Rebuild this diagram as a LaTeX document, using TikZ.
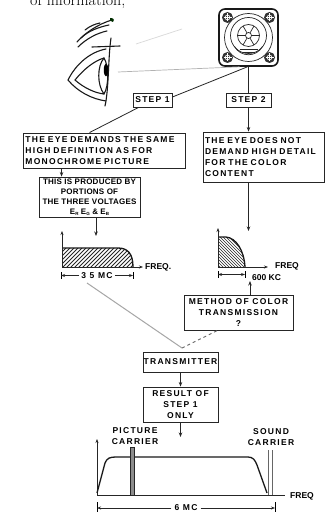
\documentclass[tikz,border=0pt]{standalone}
\usepackage{fontspec}
\newfontfamily\lblf{Liberation Sans}[LetterSpace=15]
\newfontfamily\lbln{Liberation Sans}[LetterSpace=3]
\newfontfamily\lblp{Liberation Sans}
\usetikzlibrary{arrows.meta,calc}
\newcommand{\sbx}[1]{\lower1.2bp\hbox{\fontsize{4.5bp}{5bp}\selectfont #1}}
\begin{document}
\begin{tikzpicture}[x=1bp,y=-1bp,
  bx/.style={draw=black!85, line width=0.9bp, rectangle, inner sep=0pt, align=center,
    font=\lblf\bfseries\fontsize{8.5bp}{11bp}\selectfont, text=black},
  ln/.style={line width=0.8bp, draw=black!85},
  arr/.style={ln, -{Stealth[length=4.5bp,width=3.5bp]}},
  dimarr/.style={line width=0.7bp, draw=black!85, -{Stealth[length=4bp,width=3bp]}},
  lbl/.style={inner sep=0pt, align=center, text=black,
    font=\lblf\bfseries\fontsize{8.5bp}{11bp}\selectfont},
  plbl/.style={inner sep=0pt, text=black, font=\lblp\bfseries\fontsize{8.5bp}{10bp}\selectfont},
  sight/.style={draw=black!30, line width=0.7bp},
  curve/.style={draw=black!90, line width=1.3bp}]
\useasboundingbox (0,0) rectangle (326,513);
\fill[white] (0,0) rectangle (326,513);

% cut-off text at the top
\node[anchor=base west, inner sep=0pt, font=\fontsize{16bp}{16bp}\selectfont] (toptext) at (30,6) {of information,};

% ---------- TV screen ----------
\node[draw=black!90, line width=1.6bp, rounded corners=6bp, minimum width=59bp, minimum height=57bp, inner sep=0pt] (tv) at (248.5,37.5) {};
\begin{scope}[shift={(tv.center)}, line width=0.7bp, draw=black!85]
  \draw (0,0) circle[radius=24bp];
  \draw (0,-2) circle[radius=18bp];
  \draw (0,-2) circle[radius=11bp];
  \draw (0,-2) circle[radius=3bp];
  \foreach \a in {0,60,...,300} \draw (0,-2) ++(\a:3bp) -- ++(\a:8bp);
  \draw (-9,12) -- (9,12);
  \draw (-6,14.5) -- (6,14.5);
  \draw (-14,9) .. controls (-8,20) and (8,20) .. (14,9);
  \foreach \cx/\cy in {-21/-20, 21/-20, -21/20, 21/20} {
    \fill[black!80] (\cx,\cy) circle[radius=5.5bp];
    \draw[white, line width=0.8bp] (\cx-4,\cy) -- (\cx+4,\cy) (\cx,\cy-4) -- (\cx,\cy+4);
    \draw[white, line width=0.6bp] (\cx,\cy) circle[radius=2.5bp];
  }
\end{scope}

% ---------- Eye ----------
\begin{scope}[line width=1.1bp, line cap=round, draw=black!90]
  \draw (77,42) .. controls (85,33) and (98,24) .. (112,20);
  \draw (81,38) .. controls (88,31) and (99,27) .. (109,25);
  \draw (78,47) .. controls (86,39) and (97,33) .. (107,31);
  \draw (85,30) .. controls (90,26) and (95,24) .. (100,23);
  \fill[black!70!green!60!black] (110,18) .. controls (113,18) and (115,19) .. (113,22) .. controls (111,22) and (109,20) .. cycle;
  \draw (68,80) .. controls (76,64) and (90,52) .. (106,49);
  \draw (92,47) -- (120,46);
  \draw (68,80) .. controls (78,92) and (92,99) .. (106,101);
  \draw (75,80) .. controls (84,69) and (94,61) .. (104,58);
  \draw (75,80) .. controls (84,88) and (95,93) .. (104,94);
  \draw (104,58) .. controls (97,66) and (97,85) .. (104,94);
  \draw (104,58) .. controls (109,66) and (109,86) .. (104,94);
  \fill[black] (106,70) ellipse[x radius=2.2bp, y radius=6.5bp];
  \draw (111,38) .. controls (108,58) and (109,88) .. (105,106);
\end{scope}
\coordinate (eye) at (118,72);
\coordinate (eyetop) at (136,44);
\draw[sight] (eye) -- ($(tv.south)+(-9,0)$);
\draw[draw=black!15, line width=0.7bp] (eyetop) -- (182,29);

% ---------- Boxes ----------
\node[bx, minimum width=39bp, minimum height=14bp] (step1) at (152.5,100) {STEP 1};
\node[bx, minimum width=45bp, minimum height=14bp] (step2) at (248.5,100) {STEP 2};
\node[bx, minimum width=162bp, minimum height=35bp, text width=157bp, align=left] (boxA) at (104,150.5)
  {THE EYE DEMANDS THE SAME\\HIGH DEFINITION AS FOR\\MONOCHROME PICTURE};
\node[bx, minimum width=101bp, minimum height=40bp, font=\lbln\bfseries\fontsize{8bp}{10bp}\selectfont] (boxB) at (89.5,197)
  {THIS IS PRODUCED BY\\PORTIONS OF\\THE THREE VOLTAGES\\E\sbx{R} E\sbx{G} \& E\sbx{B}};
\node[bx, minimum width=121bp, minimum height=50bp, text width=118bp, align=left] (boxC) at (264,157)
  {THE EYE DOES NOT\\DEMAND HIGH DETAIL\\FOR THE COLOR\\CONTENT};
\node[bx, minimum width=109bp, minimum height=35bp] (boxD) at (238.5,312.5)
  {METHOD OF COLOR\\TRANSMISSION\\?};
\node[bx, minimum width=75bp, minimum height=20bp] (tx) at (180.5,362) {TRANSMITTER};
\node[bx, minimum width=75bp, minimum height=35bp] (res) at (180.5,404.5) {RESULT OF\\STEP 1\\ONLY};

% ---------- Connectors ----------
\draw[ln] ($(tv.south)+(-1,0)$) -- ($(step1.east)+(0,-3)$);
\draw[ln] (tv.south) -- (step2.north);
\draw[ln] ($(step1.south west)+(6,0)$) -- ($(boxA.north west)+(67,0)$);
\draw[arr] (step2.south) -- (step2.south |- boxC.north);
\draw[arr] ($(boxA.south west)+(39,0)$) -- ($(boxB.north west)+(23,0)$);
\coordinate (g1in) at (96,236);
\draw[arr] (boxB.south -| g1in) -- (g1in);
\coordinate (g2in) at (248.5,231);
\draw[arr] (boxC.south -| g2in) -- (g2in);
\coordinate (g2dim) at (250,281);
\draw[arr] (boxD.north -| g2dim) -- (g2dim);
\coordinate (g1low) at (87,283);
\coordinate (join) at (182,348);
\draw[draw=black!35, line width=1bp] (g1low) -- (join);
\draw[draw=black!60, line width=0.9bp, dashed] (join) -- ($(boxD.south west)+(34,0)$);
\draw[arr] (tx.south) -- (res.north);
\coordinate (g3in) at (180.5,437);
\draw[arr] (res.south) -- (g3in);

% ---------- Graph 1 ----------
\coordinate (g1o) at (62,267);
\begin{scope}
  \clip (62,267) -- (62,248) -- (118,248) .. controls (128,248) and (133,254) .. (133,267) -- cycle;
  \foreach \i in {40,44,...,140} \draw[line width=0.8bp, black!85] (\i,270) -- ++(24,-24);
\end{scope}
\draw[curve] (62,248) -- (118,248) .. controls (128,248) and (133,254) .. (133,267);
\draw[dimarr, line width=1bp] (g1o) -- (62,231);
\draw[dimarr, line width=1bp] (g1o) -- (143,267);
\node[plbl, anchor=west] (freq1) at (145,267.5) {FREQ.};
\node[lbl, fill=white, inner xsep=2bp] (d1) at (97,275.5) {3 5  MC};
\draw[line width=0.7bp] (61,272) -- (61,279) (133,272) -- (133,279);
\draw[dimarr] (d1.west) -- (61,275.5);
\draw[dimarr] (d1.east) -- (133,275.5);

% ---------- Graph 2 ----------
\coordinate (g2o) at (218,267);
\begin{scope}
  \clip (218,267) -- (218,237) -- (226,237) .. controls (236,238) and (244,250) .. (245,267) -- cycle;
  \foreach \i in {170,173,...,250} \draw[line width=0.7bp, black!85] (\i,232) -- ++(40,40);
\end{scope}
\draw[curve] (218,237) -- (226,237) .. controls (236,238) and (244,250) .. (245,267);
\draw[dimarr, line width=1bp] (g2o) -- (218,228);
\draw[dimarr, line width=1bp] (g2o) -- (268,267);
\node[plbl, anchor=west] (freq2) at (275,266) {FREQ};
\draw[line width=0.7bp] (218,271) -- (218,278) (245,271) -- (245,278);
\draw[dimarr, {Stealth[length=4bp,width=3bp]}-{Stealth[length=4bp,width=3bp]}] (218,274.5) -- (245,274.5);
\node[plbl, anchor=west] (kc) at (252,277.5) {600  KC};

% ---------- Graph 3 ----------
\coordinate (g3o) at (97,495);
\draw[dimarr, line width=1bp] (g3o) -- (97,439);
\draw[line width=1bp, black!85] (g3o) -- (285,495);
\node[plbl, anchor=west] (freq3) at (290,496) {FREQ};
\draw[curve] (97,493) -- (105,463) .. controls (107,458) and (110,457) .. (116,457) -- (248,457) .. controls (253,457) and (255,460) .. (257,465) -- (267,493);
\draw[fill=black!45, draw=black!85, line width=0.6bp] (130.5,447) rectangle (134.5,495);
\draw[draw=black!60, line width=0.6bp] (268,450) -- (268,495) (272,450) -- (272,495);
\node[lbl] (pc) at (135,436) {PICTURE\\CARRIER};
\node[lbl] (sc) at (271,437) {SOUND\\CARRIER};
\node[lbl, fill=white, inner xsep=3bp] (d3) at (186,508) {6  MC};
\draw[line width=0.7bp] (97,502) -- (97,512) (275,502) -- (275,512);
\draw[dimarr] (d3.west) -- (97,508);
\draw[dimarr] (d3.east) -- (275,508);
\end{tikzpicture}
\end{document}
